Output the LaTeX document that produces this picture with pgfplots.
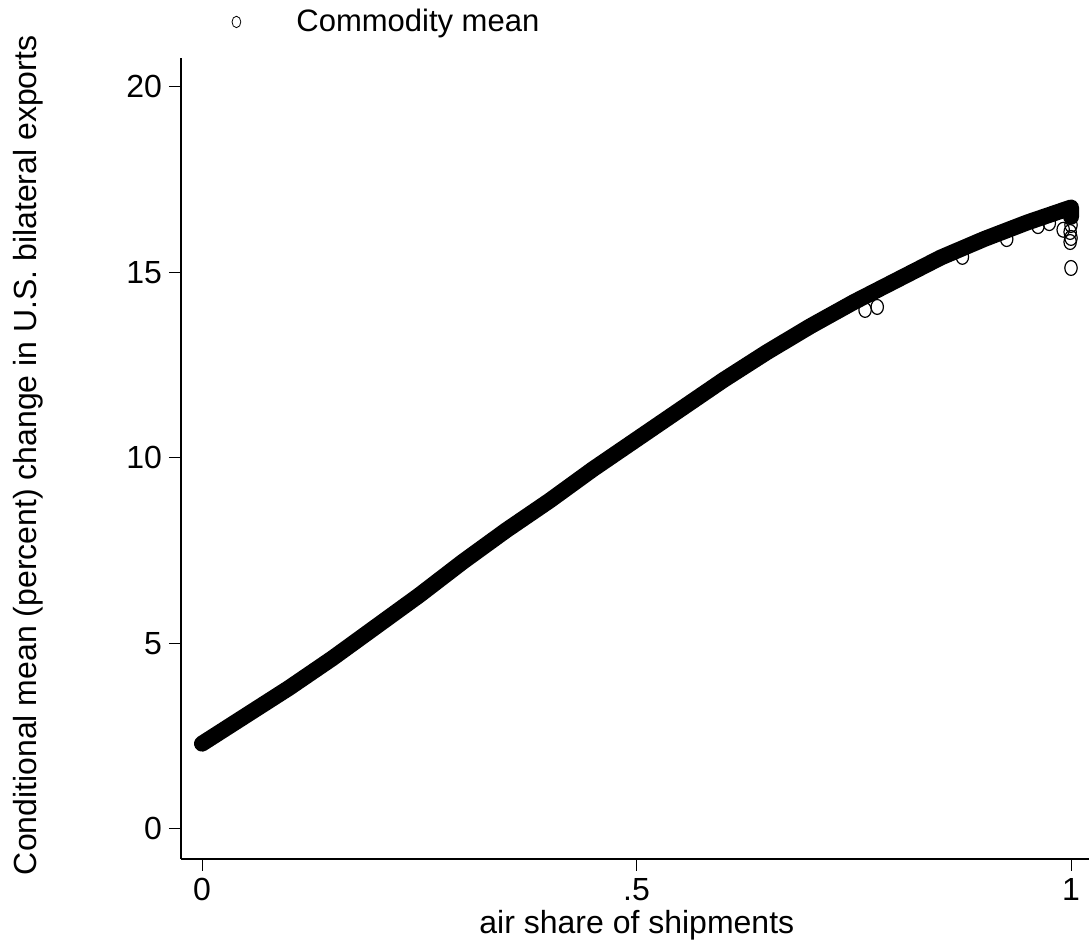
\documentclass[border=0pt]{standalone}
\usepackage{fontspec}
\setmainfont{Liberation Sans}
\usepackage{pgfplots}
\pgfplotsset{compat=1.18}
\begin{document}
\begin{tikzpicture}
\path[use as bounding box] (0,0) rectangle (544.5pt,473.5pt);
\begin{axis}[
  at={(90.5pt,44pt)}, anchor=south west,
  scale only axis, width=454pt, height=400.5pt,
  xmin=-0.0242, xmax=1.0207, ymin=-0.809, ymax=20.78,
  axis x line*=bottom, axis y line*=left,
  axis line style={line width=0.6pt},
  xtick={0,0.5,1}, xticklabels={0,.5,1},
  ytick={0,5,10,15,20},
  tick align=outside, major tick length=6pt,
  tick style={black, line width=0.5pt},
  /pgf/number format/assume math mode=true,
  ticklabel style={font=\fontsize{16pt}{19pt}\selectfont},
  xlabel={air share of shipments},
  ylabel={Conditional mean (percent) change in U.S. bilateral exports},
  every axis x label/.style={at={(axis description cs:0.502,-0.0824)}, anchor=center,
    font=\fontsize{16pt}{19pt}\selectfont},
  every axis y label/.style={at={(axis description cs:-0.1685,0.504)}, anchor=center, rotate=90,
    font=\fontsize{16pt}{19pt}\selectfont},
  legend style={draw=none, fill=none, inner sep=0pt, anchor=west,
    at={(axis description cs:0.0606,1.045)}, xshift=-3pt,
    font=\fontsize{15.5pt}{18pt}\selectfont},
  legend image code/.code={\path[draw=none, fill=none] (-3pt,0pt) rectangle (28pt,0pt);
    \draw[#1, mark size=2.2pt, mark options={yscale=1.3}] plot coordinates {(0pt,0pt)};},
]
\addplot[black, line width=8pt, line cap=round, line join=round, forget plot] coordinates {
(0,2.3) (0.05,3.05) (0.1,3.8) (0.15,4.6) (0.2,5.45) (0.25,6.3) (0.3,7.2)
(0.35,8.05) (0.4,8.85) (0.45,9.7) (0.5,10.5) (0.55,11.3) (0.6,12.1)
(0.65,12.85) (0.7,13.55) (0.75,14.2) (0.8,14.8) (0.85,15.4) (0.9,15.9)
(0.95,16.35) (1.0,16.75) (1.0,16.5)
};
\addplot[only marks, mark=o, mark size=3.1pt, mark options={black, line width=0.6pt, yscale=1.2}] coordinates {
(0.763,13.99) (0.777,14.07) (0.875,15.42) (0.926,15.90) (0.962,16.25)
(0.975,16.33) (0.991,16.15) (0.999,15.82) (1.0,16.28) (0.999,16.09)
(1.0,15.93) (1.0,15.12)
};
\addlegendentry{Commodity mean}
\end{axis}
\end{tikzpicture}
\end{document}
